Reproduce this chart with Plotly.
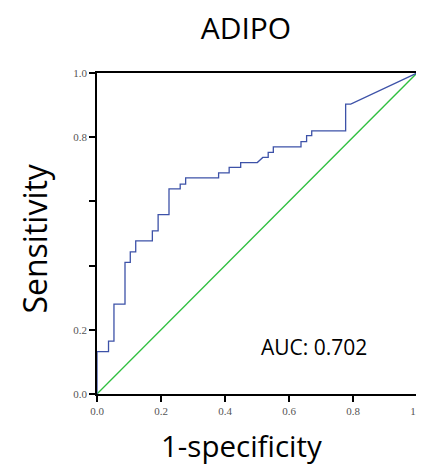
import plotly.graph_objects as go

fpr = [0, 0, 0.036, 0.036, 0.053, 0.053, 0.0875, 0.0875, 0.104, 0.104, 0.121, 0.121,
       0.173, 0.173, 0.191, 0.191, 0.225, 0.225, 0.26, 0.26, 0.277, 0.277, 0.38, 0.38,
       0.413, 0.413, 0.449, 0.449, 0.501, 0.518, 0.535, 0.535, 0.551, 0.551, 0.6375, 0.6375,
       0.655, 0.655, 0.671, 0.671, 0.777, 0.777, 0.793, 1.0]
tpr = [0, 0.132, 0.132, 0.165, 0.165, 0.28, 0.28, 0.41, 0.41, 0.443, 0.443, 0.477,
       0.477, 0.508, 0.508, 0.559, 0.559, 0.639, 0.639, 0.654, 0.654, 0.673, 0.673, 0.689,
       0.689, 0.706, 0.706, 0.721, 0.721, 0.737, 0.737, 0.753, 0.753, 0.770, 0.770, 0.786,
       0.786, 0.805, 0.805, 0.820, 0.820, 0.903, 0.903, 1.0]
ref_x = [0, 1]
ref_y = [0, 1]
tick_vals = [0.0, 0.2, 0.4, 0.6, 0.8, 1.0]
x_tick_text = ["0.0", "0.2", "0.4", "0.6", "0.8", "1.0"]
y_tick_text = ["0.0", "0.2", "", "", "0.8", "1.0"]
auc_label = "AUC: 0.702"

fig = go.Figure()
fig.add_trace(go.Scatter(x=ref_x, y=ref_y, mode="lines",
                         line=dict(color="#2fbf3f", width=1.3), showlegend=False))
fig.add_trace(go.Scatter(x=fpr, y=tpr, mode="lines",
                         line=dict(color="#3d52a8", width=1.3), showlegend=False))

axis_common = dict(range=[0, 1], tickvals=tick_vals, ticks="outside", ticklen=6,
                   tickwidth=1.5, tickcolor="black", showline=True, linecolor="black",
                   linewidth=1.5, mirror=True, showgrid=False, zeroline=False,
                   automargin=False, ticklabeloverflow="allow",
                   tickfont=dict(family="Liberation Serif", size=11, color="#555555"))

fig.update_layout(
    width=416, height=457,
    margin=dict(l=89, r=7, t=65, b=71),
    paper_bgcolor="white", plot_bgcolor="white",
    title=dict(text="ADIPO", x=0.572, xanchor="center", y=1 - 20 / 457, yanchor="middle",
               font=dict(family="Open Sans", size=30, color="black")),
    xaxis=dict(**axis_common, ticktext=x_tick_text),
    yaxis=dict(**axis_common, ticktext=y_tick_text),
    annotations=[
        dict(x=0.678, y=0.145, xref="x", yref="y", text=auc_label,
             showarrow=False, xanchor="center", yanchor="middle",
             font=dict(family="Open Sans", size=21, color="black")),
        dict(x=0.453, y=-0.159, xref="paper", yref="paper", text="1-specificity",
             showarrow=False, xanchor="center", yanchor="middle",
             font=dict(family="Open Sans", size=29.5, color="black")),
        dict(x=-0.194, y=0.484, xref="paper", yref="paper", text="Sensitivity",
             showarrow=False, xanchor="center", yanchor="middle", textangle=-90,
             font=dict(family="Open Sans", size=32, color="black")),
    ],
)
fig.write_html("out.html")
